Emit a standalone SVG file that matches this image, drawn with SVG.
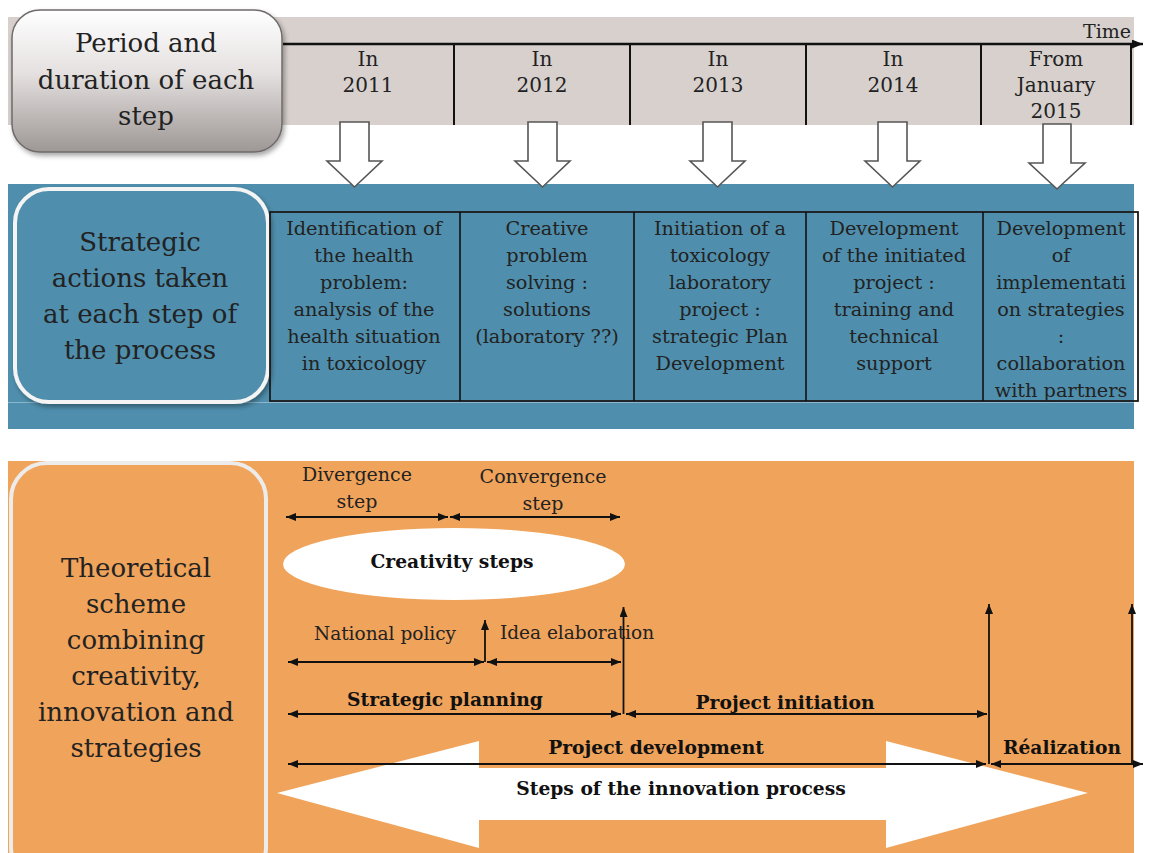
<svg xmlns="http://www.w3.org/2000/svg" width="1153" height="853" viewBox="0 0 1153 853">
  <defs>
    <linearGradient id="greyBox" x1="0" y1="0" x2="0" y2="1">
      <stop offset="0" stop-color="#ffffff"/>
      <stop offset="0.45" stop-color="#e4e0df"/>
      <stop offset="1" stop-color="#9d9795"/>
    </linearGradient>
    <filter id="shadow" x="-10%" y="-10%" width="125%" height="130%">
      <feDropShadow dx="2" dy="3" stdDeviation="2.5" flood-color="#000" flood-opacity="0.35"/>
    </filter>
    <marker id="head" viewBox="0 0 10 8" refX="10" refY="4" markerWidth="10" markerHeight="8" markerUnits="userSpaceOnUse" orient="auto-start-reverse">
      <path d="M0,0 L10,4 L0,8 Z" fill="#111"/>
    </marker>
    <marker id="timeHead" viewBox="0 0 10 8" refX="10" refY="4" markerWidth="11" markerHeight="9" markerUnits="userSpaceOnUse" orient="auto">
      <path d="M0,0 L10,4 L0,8 Z" fill="#111"/>
    </marker>
  </defs>
  <style>
    text { font-family: "DejaVu Serif", "Liberation Serif", serif; fill: #222; text-anchor: middle; }
    .big { font-size: 26px; }
    .year { font-size: 20px; }
    .cell { font-size: 19.3px; }
    .lbl { font-size: 19px; }
    .small { font-size: 18.5px; }
    .bold { font-size: 18.7px; font-weight: bold; fill: #111; }
    .rule { stroke: #111; stroke-width: 2; fill: none; }
    .dim { stroke: #111; stroke-width: 1.8; fill: none; marker-start: url(#head); marker-end: url(#head); }
    .one { stroke: #111; stroke-width: 1.8; fill: none; marker-end: url(#head); }
    .blockArrow { fill: #fff; stroke: #555; stroke-width: 1.6; stroke-linejoin: miter; }
  </style>

  <!-- timeline band -->
  <g id="timeline">
    <rect x="8" y="17" width="1126" height="108" fill="#d7d0cd"/>
    <rect x="0" y="43" width="8" height="82" fill="#fff"/>
    <line x1="283" y1="44" x2="1143" y2="44" stroke="#111" stroke-width="2.5" marker-end="url(#timeHead)"/>
    <g class="rule">
      <line x1="454" y1="44" x2="454" y2="125"/>
      <line x1="630" y1="44" x2="630" y2="125"/>
      <line x1="806" y1="44" x2="806" y2="125"/>
      <line x1="981" y1="44" x2="981" y2="125"/>
      <line x1="1131" y1="44" x2="1131" y2="125"/>
    </g>
    <text class="year" x="1131" y="38" style="text-anchor:end;font-size:19px">Time</text>
    <text class="year" x="368" y="66">In</text>
    <text class="year" x="368" y="92">2011</text>
    <text class="year" x="542" y="66">In</text>
    <text class="year" x="542" y="92">2012</text>
    <text class="year" x="718" y="66">In</text>
    <text class="year" x="718" y="92">2013</text>
    <text class="year" x="893" y="66">In</text>
    <text class="year" x="893" y="92">2014</text>
    <text class="year" x="1056" y="66">From</text>
    <text class="year" x="1056" y="92">January</text>
    <text class="year" x="1056" y="118">2015</text>
  </g>

  <!-- period label -->
  <g id="period-label">
    <rect x="12" y="10" width="270" height="142" rx="28" fill="url(#greyBox)" stroke="#6f6b6a" stroke-width="1.5" filter="url(#shadow)"/>
    <text class="big" x="146" y="52">Period and</text>
    <text class="big" x="146" y="89">duration of each</text>
    <text class="big" x="146" y="125">step</text>
  </g>

  <!-- blue band with actions -->
  <g id="actions-band">
    <rect x="8" y="184" width="1126" height="245" fill="#4f8fad"/>
    <line x1="8" y1="402.5" x2="1134" y2="402.5" stroke="#8cb6ca" stroke-width="1.2"/>
  </g>

  <!-- down arrows from each period -->
  <g id="period-arrows">
    <path class="blockArrow" d="M340,122 H369 V161 H382 L354.5,187 L327,161 H340 Z"/>
    <path class="blockArrow" d="M528,122 H557 V161 H570 L542.5,187 L515,161 H528 Z"/>
    <path class="blockArrow" d="M703,122 H732 V161 H745 L717.5,187 L690,161 H703 Z"/>
    <path class="blockArrow" d="M878,122 H907 V161 H920 L892.5,187 L865,161 H878 Z"/>
    <path class="blockArrow" d="M1043,124 H1071 V163 H1085 L1057,189 L1029,163 H1043 Z"/>
  </g>

  <g id="actions-label">
    <rect x="15" y="189" width="253" height="213" rx="34" fill="#4f8fad" stroke="#f4f4f4" stroke-width="4" filter="url(#shadow)"/>
    <text class="big" x="140" y="251">Strategic</text>
    <text class="big" x="140" y="287">actions taken</text>
    <text class="big" x="140" y="323">at each step of</text>
    <text class="big" x="140" y="359">the process</text>
  </g>

  <g id="actions-table">
    <rect x="270" y="212" width="868" height="189" fill="none" stroke="#1a1a1a" stroke-width="1.8"/>
    <g class="rule" style="stroke-width:1.6">
      <line x1="460" y1="212" x2="460" y2="401"/>
      <line x1="634" y1="212" x2="634" y2="401"/>
      <line x1="806" y1="212" x2="806" y2="401"/>
      <line x1="983" y1="212" x2="983" y2="401"/>
    </g>
  </g>

  <g id="action-2011">
    <text class="cell" x="364" y="235">Identification of</text>
    <text class="cell" x="364" y="262">the health</text>
    <text class="cell" x="364" y="289">problem:</text>
    <text class="cell" x="364" y="316">analysis of the</text>
    <text class="cell" x="364" y="343">health situation</text>
    <text class="cell" x="364" y="370">in toxicology</text>
  </g>
  <g id="action-2012">
    <text class="cell" x="547" y="235">Creative</text>
    <text class="cell" x="547" y="262">problem</text>
    <text class="cell" x="547" y="289">solving :</text>
    <text class="cell" x="547" y="316">solutions</text>
    <text class="cell" x="547" y="343">(laboratory ??)</text>
  </g>
  <g id="action-2013">
    <text class="cell" x="720" y="235">Initiation of a</text>
    <text class="cell" x="720" y="262">toxicology</text>
    <text class="cell" x="720" y="289">laboratory</text>
    <text class="cell" x="720" y="316">project :</text>
    <text class="cell" x="720" y="343">strategic Plan</text>
    <text class="cell" x="720" y="370">Development</text>
  </g>
  <g id="action-2014">
    <text class="cell" x="894" y="235">Development</text>
    <text class="cell" x="894" y="262">of the initiated</text>
    <text class="cell" x="894" y="289">project :</text>
    <text class="cell" x="894" y="316">training and</text>
    <text class="cell" x="894" y="343">technical</text>
    <text class="cell" x="894" y="370">support</text>
  </g>
  <g id="action-2015">
    <text class="cell" x="1061" y="235">Development</text>
    <text class="cell" x="1061" y="262">of</text>
    <text class="cell" x="1061" y="289">implementati</text>
    <text class="cell" x="1061" y="316">on strategies</text>
    <text class="cell" x="1061" y="343">:</text>
    <text class="cell" x="1061" y="370">collaboration</text>
    <text class="cell" x="1061" y="397">with partners</text>
  </g>

  <!-- orange theoretical scheme -->
  <g id="scheme-band">
    <rect x="8" y="461" width="1126" height="392" fill="#f0a35a"/>
  </g>

  <g id="scheme-label">
    <rect x="11" y="463" width="255" height="420" rx="36" fill="#f0a35a" stroke="#ececec" stroke-width="4"/>
    <text class="big" x="136" y="577">Theoretical</text>
    <text class="big" x="136" y="613">scheme</text>
    <text class="big" x="136" y="649">combining</text>
    <text class="big" x="136" y="685">creativity,</text>
    <text class="big" x="136" y="721">innovation and</text>
    <text class="big" x="136" y="757">strategies</text>
  </g>

  <g id="innovation-arrow">
    <polygon points="277,793 479,741 479,768 886,768 886,741 1088,793 886,848 886,820 479,820 479,848" fill="#fff"/>
    <text class="bold" x="681" y="795">Steps of the innovation process</text>
  </g>

  <g id="creativity-steps">
    <ellipse cx="454" cy="564" rx="171" ry="36" fill="#fff"/>
    <text class="bold" x="452" y="568">Creativity steps</text>
  </g>

  <g id="labels">
    <text class="lbl" x="357" y="481">Divergence</text>
    <text class="lbl" x="357" y="508">step</text>
    <text class="lbl" x="543" y="483">Convergence</text>
    <text class="lbl" x="543" y="510">step</text>
    <text class="small" x="385" y="640">National policy</text>
    <text class="small" x="577" y="639">Idea elaboration</text>
    <text class="bold" x="445" y="706">Strategic planning</text>
    <text class="bold" x="785" y="709">Project initiation</text>
    <text class="bold" x="656" y="754">Project development</text>
    <text class="bold" x="1062" y="754">Réalization</text>
  </g>

  <g id="connectors">
    <line class="dim" x1="286" y1="517" x2="448" y2="517"/>
    <line class="dim" x1="450" y1="517" x2="620" y2="517"/>
    <line class="dim" x1="288" y1="662" x2="484" y2="662"/>
    <line class="dim" x1="487" y1="662" x2="621" y2="662"/>
    <line class="one" x1="485" y1="662" x2="485" y2="620"/>
    <line class="one" x1="623.5" y1="714" x2="623.5" y2="607"/>
    <line class="dim" x1="288" y1="714" x2="621" y2="714"/>
    <line class="dim" x1="626" y1="714" x2="987" y2="714"/>
    <line class="one" x1="989" y1="764" x2="989" y2="604"/>
    <line class="one" x1="1132" y1="764" x2="1132" y2="604"/>
    <line class="dim" x1="288" y1="764" x2="986" y2="764"/>
    <line class="dim" x1="991" y1="764" x2="1143" y2="764"/>
  </g>
</svg>
